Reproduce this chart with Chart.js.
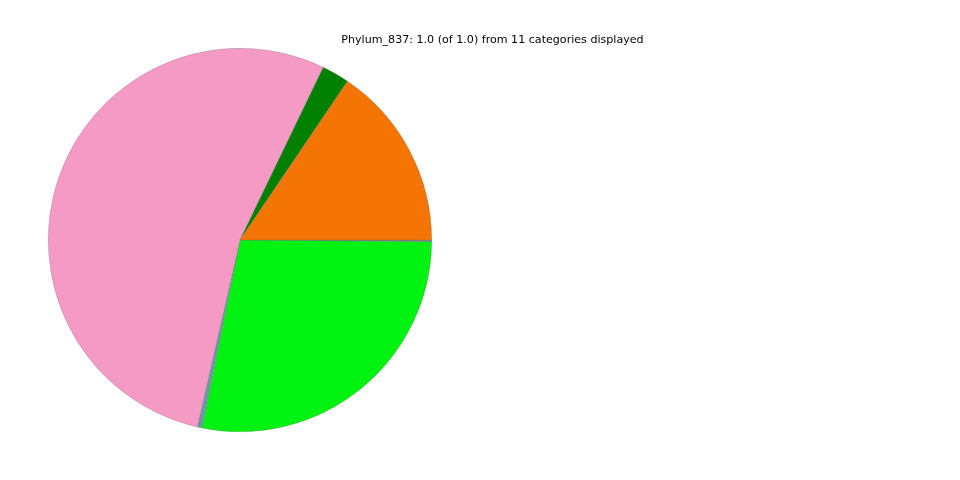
<!DOCTYPE html>
<html>
<head>
  <script src="https://cdn.jsdelivr.net/npm/chart.js"></script>
  <style>
    body { margin: 0; background: #fff; }
  </style>
</head>
<body>
  <canvas id="pieChart" width="960" height="480"></canvas>

  <script>
    // Data (fractions of 1.0), matplotlib order: counterclockwise from east
    const titleText = 'Phylum_837: 1.0 (of 1.0) from 11 categories displayed';
    const categories = ['Category 1', 'Category 2', 'Category 3', 'Category 4', 'Category 5',
                        'Category 6', 'Category 7', 'Category 8', 'Category 9', 'Category 10', 'Category 11'];
    const values = [0.1552, 0.0233, 0.5357, 0.0039, 0.2805, 0.0004, 0.0003, 0.0002, 0.0002, 0.0002, 0.0001];
    const colors = ['#f47404', '#008000', '#f49ac4', '#6b98a6', '#00f210',
                    '#7f7f7f', '#9467bd', '#8c564b', '#17becf', '#bcbd22', '#d62728'];

    // Chart.js draws clockwise, so reverse the order and start at 3 o'clock
    const rev = arr => arr.slice().reverse();

    const titlePlugin = {
      id: 'topTitle',
      afterDraw(chart) {
        const ctx = chart.ctx;
        ctx.save();
        ctx.font = '11.1px "DejaVu Sans"';
        ctx.fillStyle = '#000';
        ctx.textAlign = 'center';
        ctx.textBaseline = 'middle';
        ctx.fillText(titleText, 492.5, 40);
        ctx.restore();
      }
    };

    new Chart(document.getElementById('pieChart').getContext('2d'), {
      type: 'pie',
      data: {
        labels: rev(categories),
        datasets: [{
          data: rev(values),
          backgroundColor: rev(colors),
          borderColor: 'rgba(120, 120, 120, 0.6)',
          borderWidth: 0.5
        }]
      },
      options: {
        responsive: false,
        animation: false,
        rotation: 90,
        layout: { padding: { left: 48, right: 528, top: 48, bottom: 48 } },
        plugins: {
          legend: { display: false },
          tooltip: { enabled: false }
        }
      },
      plugins: [titlePlugin]
    });
  </script>
</body>
</html>
